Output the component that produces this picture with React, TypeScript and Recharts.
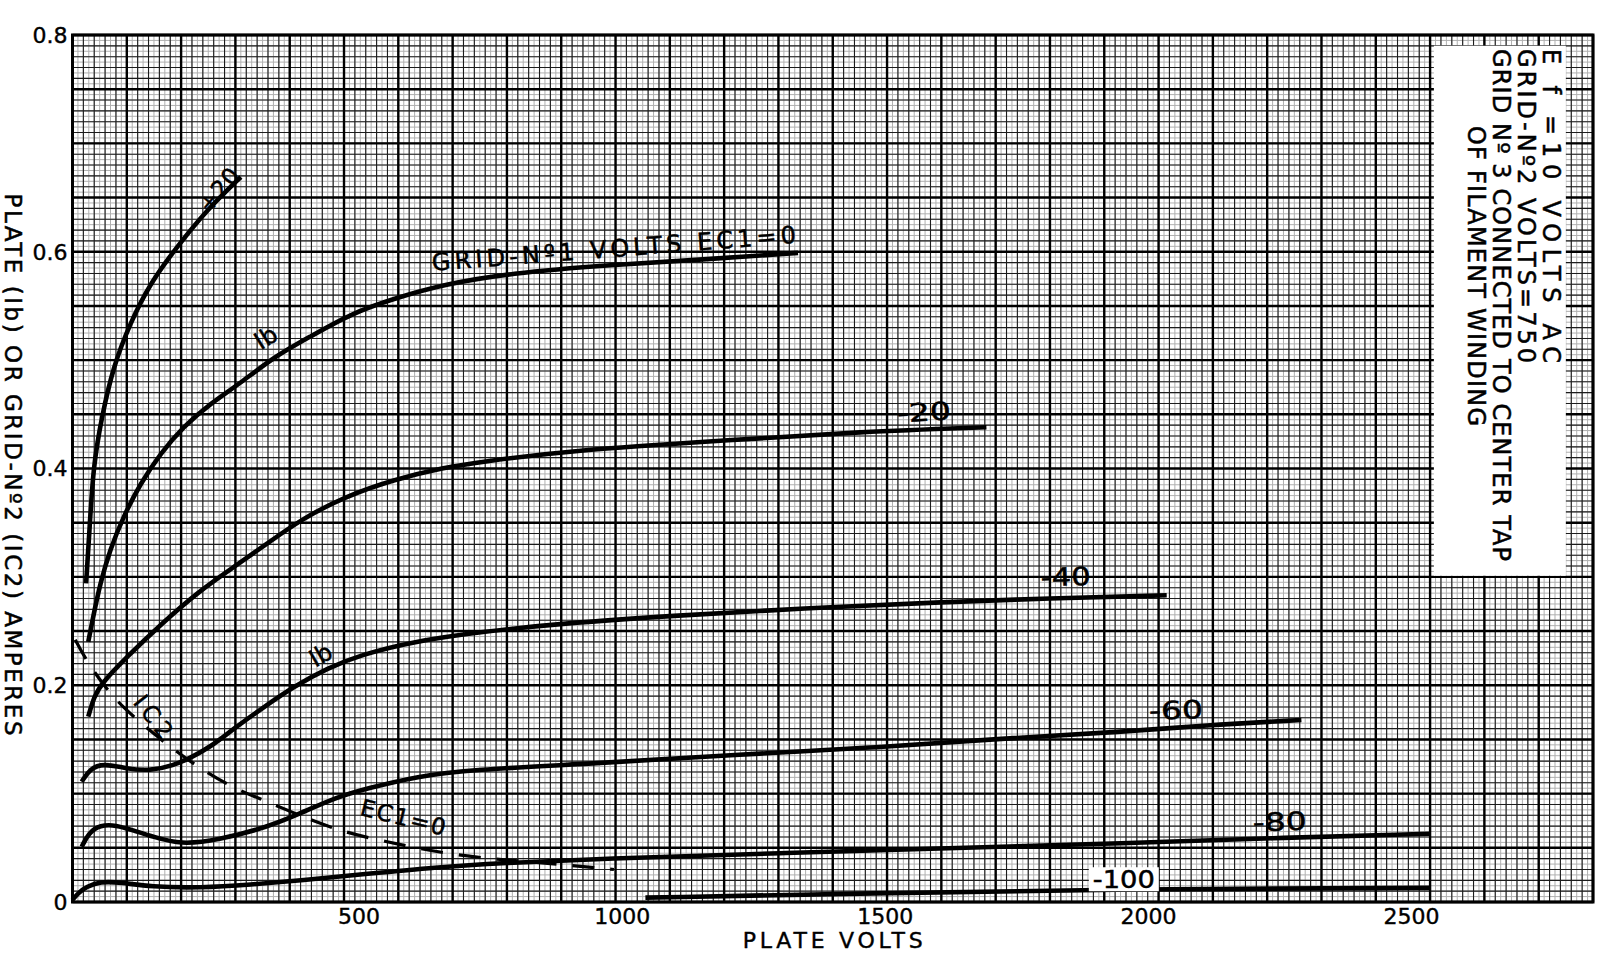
import React from "react";
import {
  LineChart,
  Line,
  XAxis,
  YAxis,
  CartesianGrid,
  ReferenceArea,
  ReferenceDot,
  Label,
} from "recharts";

// plate volts / amperes, one pair of arrays per curve
const plus20Volts = [25, 31, 38, 54, 75, 106, 143, 193, 248, 310];
const plus20Amps = [0.294, 0.34, 0.402, 0.448, 0.494, 0.534, 0.571, 0.605, 0.639, 0.669];

const zeroVolts = [29, 38, 51, 69, 94, 125, 162, 205, 254, 310, 371, 439, 513, 593, 685, 802, 993, 1170, 1336];
const zeroAmps = [0.24, 0.263, 0.294, 0.325, 0.356, 0.386, 0.414, 0.439, 0.46, 0.479, 0.503, 0.522, 0.543, 0.557, 0.57, 0.58, 0.588, 0.593, 0.599];

const minus20Volts = [29, 40, 54, 100, 162, 236, 297, 359, 421, 501, 593, 685, 750, 922, 1205, 1453, 1683];
const minus20Amps = [0.171, 0.19, 0.202, 0.226, 0.256, 0.288, 0.309, 0.331, 0.353, 0.374, 0.39, 0.401, 0.406, 0.417, 0.426, 0.434, 0.438];

const minus40Volts = [17, 32, 57, 100, 143, 186, 217, 254, 297, 347, 408, 470, 531, 624, 747, 901, 1100, 1344, 1614, 1793, 2015];
const minus40Amps = [0.111, 0.123, 0.128, 0.123, 0.121, 0.126, 0.133, 0.143, 0.16, 0.178, 0.199, 0.216, 0.228, 0.24, 0.249, 0.257, 0.264, 0.271, 0.277, 0.28, 0.283];

const minus60Volts = [17, 30, 51, 80, 112, 150, 199, 267, 359, 421, 482, 544, 636, 729, 972, 1220, 1467, 1715, 1936, 2084, 2263];
const minus60Amps = [0.051, 0.064, 0.071, 0.071, 0.066, 0.06, 0.053, 0.057, 0.069, 0.082, 0.096, 0.105, 0.116, 0.122, 0.128, 0.136, 0.142, 0.151, 0.157, 0.163, 0.168];

const minus80Volts = [0, 12, 26, 51, 90, 143, 236, 328, 421, 544, 667, 790, 972, 1302, 1633, 1936, 2207, 2500];
const minus80Amps = [0.002, 0.009, 0.014, 0.019, 0.018, 0.014, 0.013, 0.016, 0.02, 0.026, 0.032, 0.036, 0.04, 0.045, 0.05, 0.054, 0.059, 0.063];

const minus100Volts = [1055, 1467, 1936, 2500];
const minus100Amps = [0.004, 0.008, 0.012, 0.013];

// grid-no.2 current at Ec1 = 0 (dashed)
const ic2Volts = [5, 23, 54, 91, 150, 211, 291, 352, 408, 489, 563, 710, 849, 997];
const ic2Amps = [0.242, 0.225, 0.202, 0.18, 0.155, 0.131, 0.106, 0.094, 0.082, 0.066, 0.057, 0.042, 0.037, 0.03];

const xTicks = [500, 1000, 1500, 2000, 2500];
const yTicks = [0, 0.2, 0.4, 0.6, 0.8];

const noteLines = [
  "E f =10 VOLTS AC",
  "GRID-Nº2 VOLTS=750",
  "GRID Nº 3 CONNECTED TO CENTER TAP",
  "OF FILAMENT WINDING",
];

const X_MAX = 2800;
const Y_MAX = 0.8;
const font = "'DejaVu Sans', sans-serif";

const zip = (vs: number[], is: number[]) => vs.map((v, k) => ({ v, i: is[k] }));

const curves = [
  { key: "plus20", data: zip(plus20Volts, plus20Amps) },
  { key: "zero", data: zip(zeroVolts, zeroAmps) },
  { key: "m20", data: zip(minus20Volts, minus20Amps) },
  { key: "m40", data: zip(minus40Volts, minus40Amps) },
  { key: "m60", data: zip(minus60Volts, minus60Amps) },
  { key: "m80", data: zip(minus80Volts, minus80Amps) },
  { key: "m100", data: zip(minus100Volts, minus100Amps) },
];

function steps(max: number, step: number) {
  const out: number[] = [];
  for (let k = 0; k * step <= max + 1e-9; k++) out.push(Math.round(k * step * 10000) / 10000);
  return out;
}

const fineV = steps(X_MAX, 10);
const midV = steps(X_MAX, 20);
const majorV = steps(X_MAX, 100);
const fineH = steps(Y_MAX, 0.005);
const midH = steps(Y_MAX, 0.01);
const majorH = steps(Y_MAX, 0.05);

// text written along the curves: anchor (volts, amps), angle, size, optional length in px
type CurveLabel = { text: string; v: number; i: number; angle: number; size: number; len?: number; stretch?: boolean; boxed?: boolean };
const curveLabels: CurveLabel[] = [
  { text: "+20", v: 269, i: 0.657, angle: -50, size: 23, len: 50 },
  { text: "Ib", v: 356, i: 0.521, angle: -32, size: 24 },
  { text: "GRID-Nº1 VOLTS EC1=0", v: 997, i: 0.603, angle: -4.4, size: 24, len: 365 },
  { text: "-20", v: 1568, i: 0.452, angle: -3, size: 25, len: 54, stretch: true },
  { text: "-40", v: 1829, i: 0.3, angle: -2, size: 25, len: 50, stretch: true },
  { text: "-60", v: 2032, i: 0.177, angle: -2, size: 25, len: 54, stretch: true },
  { text: "-80", v: 2223, i: 0.074, angle: -2, size: 25, len: 54, stretch: true },
  { text: "-100", v: 1936, i: 0.021, angle: 0, size: 25, len: 62, stretch: true, boxed: true },
  { text: "Ib", v: 457, i: 0.228, angle: -30, size: 24 },
  { text: "IC2", v: 149, i: 0.171, angle: 52, size: 23, len: 48 },
  { text: "EC1=0", v: 609, i: 0.078, angle: 14, size: 23, len: 87 },
];

const notePos = [
  { v: 2724, i: 0.787, len: 314 },
  { v: 2678, i: 0.787, len: 314 },
  { v: 2632, i: 0.787, len: 512 },
  { v: 2586, i: 0.716, len: 300 },
];

// printed tick numbers sit a little off their gridlines on the sheet
const XTick = (p: any) => {
  const v = p.payload.value;
  const shift = 23.5 - 0.0168 * v;
  return (
    <text x={p.x + shift} y={p.y} dy="0.71em" textAnchor="middle" fontFamily={font} fontSize={22}
      fill="#000" stroke="#000" strokeWidth={0.4}>
      {v}
    </text>
  );
};

export default function App() {
  return (
    <div style={{ position: "absolute", left: 0, top: 0, background: "#fff" }}>
      <LineChart
        width={1600}
        height={966}
        margin={{ top: 35, right: 7, bottom: 0, left: 0 }}
      >
        <CartesianGrid verticalValues={fineV} horizontalValues={fineH} stroke="#b0b0b0" strokeWidth={1} />
        <CartesianGrid verticalValues={midV} horizontalValues={midH} stroke="#1c1c1c" strokeWidth={1.1} />
        <CartesianGrid verticalValues={majorV} horizontalValues={majorH} stroke="#000" strokeWidth={2.4} />

        <XAxis
          type="number"
          dataKey="v"
          domain={[0, X_MAX]}
          ticks={xTicks}
          interval={0}
          height={64}
          axisLine={false}
          tickLine={false}
          tickSize={0}
          tickMargin={6}
          tick={<XTick />}
        >
          <Label
            content={(p: any) => {
              const vb = p.viewBox;
              const x = vb.x + vb.width / 2;
              const y = vb.y + 38;
              return (
                <text x={x} y={y} dy="0.35em" textAnchor="middle" fontFamily={font} fontSize={22}
                  textLength={180} lengthAdjust="spacing" fill="#000" stroke="#000" strokeWidth={0.4}>
                  PLATE VOLTS
                </text>
              );
            }}
          />
        </XAxis>
        <YAxis
          type="number"
          domain={[0, Y_MAX]}
          ticks={yTicks}
          interval={0}
          width={72.5}
          axisLine={false}
          tickLine={false}
          tickSize={0}
          tickMargin={5}
          tickFormatter={(v: number) => (v === 0 ? "0" : v.toFixed(1))}
          tick={{ fontSize: 22, fill: "#000", fontFamily: font, stroke: "#000", strokeWidth: 0.4 }}
        >
          <Label
            content={(p: any) => {
              const vb = p.viewBox;
              const x = vb.x + 13;
              const y = vb.y + vb.height / 2 - 4;
              return (
                <text x={x} y={y} dy="0.35em" textAnchor="middle" transform={`rotate(90 ${x} ${y})`}
                  fontFamily={font} fontSize={23} textLength={542} lengthAdjust="spacing"
                  fill="#000" stroke="#000" strokeWidth={0.5}>
                  PLATE (Ib) OR GRID-Nº2 (IC2) AMPERES
                </text>
              );
            }}
          />
        </YAxis>

        {/* blank panel for the operating notes */}
        <ReferenceArea x1={2507} x2={2750} y1={0.301} y2={0.79} fill="#fff" fillOpacity={1} stroke="none" />
        <ReferenceArea x1={0} x2={X_MAX} y1={0} y2={Y_MAX} fill="none" stroke="#000" strokeWidth={3} />

        {curves.map((c) => (
          <Line
            key={c.key}
            data={c.data}
            dataKey="i"
            type="basis"
            stroke="#000"
            strokeWidth={4.6}
            dot={false}
            activeDot={false}
            isAnimationActive={false}
          />
        ))}
        <Line
          data={zip(ic2Volts, ic2Amps)}
          dataKey="i"
          type="basis"
          stroke="#000"
          strokeWidth={3.2}
          strokeDasharray="22 16"
          dot={false}
          activeDot={false}
          isAnimationActive={false}
        />

        {curveLabels.map((l, k) => (
          <ReferenceDot
            key={"lab" + k}
            x={l.v}
            y={l.i}
            r={0}
            shape={(p: any) => (
              <g transform={`rotate(${l.angle} ${p.cx} ${p.cy})`}>
                {l.boxed && (
                  <rect x={p.cx - (l.len || 60) / 2 - 4} y={p.cy - 12} width={(l.len || 60) + 8} height={24} fill="#fff" />
                )}
                <text x={p.cx} y={p.cy} dy="0.35em" textAnchor="middle" fontFamily={font} fontSize={l.size}
                  textLength={l.len} lengthAdjust={l.stretch ? "spacingAndGlyphs" : "spacing"}
                  fill="#000" stroke="#000" strokeWidth={0.5}>
                  {l.text}
                </text>
              </g>
            )}
          />
        ))}

        {noteLines.map((t, k) => (
          <ReferenceDot
            key={"note" + k}
            x={notePos[k].v}
            y={notePos[k].i}
            r={0}
            shape={(p: any) => (
              <text x={p.cx} y={p.cy} dy="0.35em" textAnchor="start"
                transform={`rotate(90 ${p.cx} ${p.cy})`} fontFamily={font} fontSize={24}
                textLength={notePos[k].len} lengthAdjust="spacing" fill="#000" stroke="#000" strokeWidth={0.5}>
                {t}
              </text>
            )}
          />
        ))}
      </LineChart>
    </div>
  );
}
